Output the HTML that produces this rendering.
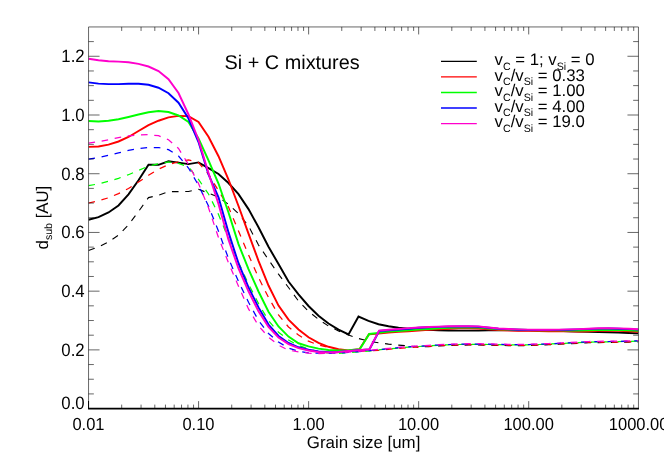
<!DOCTYPE html>
<html><head><meta charset="utf-8"><title>Si + C mixtures</title>
<style>html,body{margin:0;padding:0;background:#fff;overflow:hidden}body{width:664px;height:465px;position:relative;font-family:"Liberation Sans",sans-serif}</style></head>
<body>
<svg width="664" height="465" viewBox="0 0 664 465" style="display:block;position:absolute;left:0;top:0">
<rect width="664" height="465" fill="#fff"/>
<defs><clipPath id="c"><rect x="88.5" y="26.9" width="549.9" height="381.7"/></clipPath></defs>
<g fill="none" stroke-linejoin="miter" stroke-miterlimit="3" stroke-linecap="butt" clip-path="url(#c)">
<path d="M88.5 219.7 L98.5 217.2 L108.5 212.5 L118.5 205.5 L128.5 194.3 L138.5 180.3 L148.5 164.8 L158.5 164.8 L168.5 161.3 L178.5 162.6 L188.5 164.1 L198.5 162.4 L208.5 168.2 L218.5 174.0 L228.5 183.0 L238.5 194.2 L248.5 209.1 L258.5 227.2 L268.5 246.8 L278.5 264.0 L288.5 281.5 L298.5 294.3 L308.5 306.0 L318.5 315.8 L328.5 323.5 L338.5 329.7 L348.5 334.5 L358.5 316.6 L368.5 320.8 L378.5 324.2 L388.5 326.3 L398.5 327.7 L408.5 328.6 L418.5 329.3 L428.5 329.8 L438.5 330.2 L448.5 330.5 L458.5 330.6 L468.5 330.6 L478.5 330.6 L488.5 330.4 L498.5 330.2 L508.5 330.1 L518.5 330.2 L528.5 330.3 L538.5 330.4 L548.5 330.6 L558.5 330.9 L568.5 331.2 L578.5 331.5 L588.5 331.8 L598.5 332.0 L608.5 332.2 L618.5 332.6 L628.5 333.0 L638.5 333.4" stroke="#000000" stroke-width="1.95"/>
<path d="M88.5 250.5 L98.5 247.0 L108.5 242.0 L118.5 235.2 L128.5 224.8 L138.5 211.5 L148.5 197.6 L158.5 195.3 L168.5 191.7 L178.5 191.6 L188.5 191.5 L198.5 189.3 L208.5 193.2 L218.5 197.1 L228.5 204.4 L238.5 213.5 L248.5 226.0 L258.5 245.0 L268.5 259.7 L278.5 274.1 L288.5 287.5 L298.5 301.0 L308.5 311.3 L318.5 319.3 L328.5 326.0 L338.5 330.9 L348.5 335.1 L358.5 338.5 L368.5 341.1 L378.5 342.8 L388.5 344.1 L398.5 345.1 L408.5 345.9 L418.5 347.2 L428.5 346.6 L438.5 346.0 L448.5 345.5 L458.5 345.2 L468.5 345.0 L478.5 345.0 L488.5 345.2 L498.5 345.4 L508.5 345.6 L518.5 345.7 L528.5 345.5 L538.5 345.2 L548.5 344.8 L558.5 344.3 L568.5 343.8 L578.5 343.3 L588.5 342.8 L598.5 342.6 L608.5 342.5 L618.5 342.3 L628.5 342.1 L638.5 341.9" stroke="#000000" stroke-width="1.1" stroke-dasharray="6.6 6.7"/>
<path d="M88.5 146.9 L98.5 146.5 L108.5 144.6 L118.5 141.5 L128.5 137.0 L138.5 131.0 L148.5 125.2 L158.5 120.7 L168.5 117.4 L178.5 115.9 L188.5 116.1 L198.5 121.9 L208.5 136.8 L218.5 156.2 L228.5 179.5 L238.5 206.0 L248.5 233.7 L258.5 260.8 L268.5 285.5 L278.5 305.6 L288.5 319.6 L298.5 329.5 L308.5 337.3 L318.5 342.8 L328.5 346.8 L338.5 349.3 L348.5 350.4 L359.5 349.2 L369.0 334.2 L378.5 333.6 L388.5 332.5 L398.5 331.9 L408.5 331.3 L418.5 330.5 L428.5 329.9 L438.5 329.3 L448.5 328.8 L458.5 328.4 L468.5 328.3 L478.5 328.5 L488.5 329.4 L498.5 330.1 L508.5 330.5 L518.5 330.7 L528.5 330.9 L538.5 331.1 L548.5 331.2 L558.5 331.3 L568.5 331.4 L578.5 331.5 L588.5 331.3 L598.5 330.9 L608.5 330.7 L618.5 330.9 L628.5 331.3 L638.5 331.7" stroke="#ff0000" stroke-width="1.95"/>
<path d="M88.5 203.0 L98.5 200.8 L108.5 197.8 L118.5 193.6 L128.5 188.5 L138.5 182.0 L148.5 175.3 L158.5 169.1 L168.5 164.7 L178.5 161.7 L188.5 159.9 L198.5 162.6 L208.5 174.3 L218.5 190.7 L228.5 207.0 L238.5 231.0 L248.5 254.8 L258.5 277.5 L268.5 297.5 L278.5 314.8 L288.5 327.0 L298.5 335.1 L308.5 341.2 L318.5 345.0 L328.5 347.4 L338.5 349.5 L348.5 351.0 L358.5 351.5 L368.5 350.8 L378.5 350.3 L388.5 349.3 L398.5 348.4 L408.5 347.6 L418.5 346.9 L428.5 346.3 L438.5 345.7 L448.5 345.2 L458.5 344.9 L468.5 344.7 L478.5 344.7 L488.5 344.9 L498.5 345.1 L508.5 345.3 L518.5 345.4 L528.5 345.2 L538.5 344.9 L548.5 344.5 L558.5 344.0 L568.5 343.5 L578.5 343.0 L588.5 342.5 L598.5 342.3 L608.5 342.2 L618.5 342.0 L628.5 341.8 L638.5 341.6" stroke="#ff0000" stroke-width="1.25" stroke-dasharray="6.6 6.7"/>
<path d="M88.5 121.0 L98.5 121.4 L108.5 120.8 L118.5 119.3 L128.5 117.0 L138.5 114.5 L148.5 112.3 L158.5 111.1 L168.5 112.0 L178.5 115.5 L188.5 122.0 L198.5 138.5 L208.5 160.3 L218.5 183.5 L228.5 212.5 L238.5 244.1 L248.5 269.2 L258.5 291.5 L268.5 311.8 L278.5 326.5 L288.5 336.6 L298.5 343.3 L308.5 346.4 L318.5 348.6 L328.5 350.0 L338.5 350.5 L348.5 350.2 L359.7 349.3 L369.2 334.0 L378.5 332.9 L388.5 331.5 L398.5 331.0 L408.5 330.3 L418.5 329.6 L428.5 329.0 L438.5 328.4 L448.5 327.9 L458.5 327.5 L468.5 327.4 L478.5 327.6 L488.5 328.5 L498.5 329.2 L508.5 329.6 L518.5 329.8 L528.5 330.0 L538.5 330.2 L548.5 330.3 L558.5 330.4 L568.5 330.5 L578.5 330.6 L588.5 330.4 L598.5 330.0 L608.5 329.8 L618.5 330.0 L628.5 330.4 L638.5 330.8" stroke="#00ff00" stroke-width="1.95"/>
<path d="M88.5 185.6 L98.5 183.9 L108.5 181.3 L118.5 178.3 L128.5 174.7 L138.5 170.4 L148.5 166.2 L158.5 163.8 L168.5 162.0 L178.5 163.3 L188.5 167.0 L198.5 179.3 L208.5 194.0 L218.5 214.5 L228.5 238.5 L238.5 262.5 L248.5 284.0 L258.5 303.5 L268.5 320.6 L278.5 332.2 L288.5 340.0 L298.5 345.4 L308.5 349.0 L318.5 351.6 L328.5 353.0 L338.5 353.3 L348.5 352.7 L358.5 351.9 L368.5 351.1 L378.5 349.9 L388.5 348.9 L398.5 348.0 L408.5 347.2 L418.5 346.5 L428.5 345.9 L438.5 345.3 L448.5 344.8 L458.5 344.5 L468.5 344.3 L478.5 344.3 L488.5 344.5 L498.5 344.7 L508.5 344.9 L518.5 345.0 L528.5 344.8 L538.5 344.5 L548.5 344.1 L558.5 343.6 L568.5 343.1 L578.5 342.6 L588.5 342.1 L598.5 341.9 L608.5 341.8 L618.5 341.6 L628.5 341.4 L638.5 341.2" stroke="#00ff00" stroke-width="1.25" stroke-dasharray="6.6 6.7"/>
<path d="M88.5 82.4 L98.5 83.6 L108.5 84.1 L118.5 84.1 L128.5 83.7 L138.5 83.7 L148.5 84.8 L158.5 87.7 L168.5 93.2 L178.5 102.7 L188.5 118.5 L198.5 142.0 L208.5 174.5 L218.5 197.3 L228.5 232.4 L238.5 263.4 L248.5 287.4 L258.5 307.4 L268.5 324.6 L278.5 336.0 L288.5 343.0 L298.5 347.3 L308.5 349.7 L318.5 351.5 L328.5 352.1 L338.5 352.0 L348.5 351.2 L358.5 350.3 L369.4 349.5 L379.1 331.0 L388.5 330.2 L398.5 329.5 L408.5 328.8 L418.5 327.8 L428.5 327.3 L438.5 326.9 L448.5 326.6 L458.5 326.5 L468.5 326.5 L478.5 326.7 L488.5 327.8 L498.5 328.8 L508.5 329.3 L518.5 329.7 L528.5 329.9 L538.5 330.1 L548.5 330.1 L558.5 329.9 L568.5 329.7 L578.5 329.4 L588.5 329.0 L598.5 328.6 L608.5 328.5 L618.5 328.7 L628.5 329.1 L638.5 329.6" stroke="#0000ff" stroke-width="1.95"/>
<path d="M88.5 159.2 L98.5 157.5 L108.5 155.3 L118.5 152.9 L128.5 150.4 L138.5 148.5 L148.5 147.5 L158.5 147.5 L168.5 149.6 L178.5 156.0 L188.5 168.0 L198.5 185.3 L208.5 206.0 L218.5 231.2 L228.5 258.5 L238.5 281.5 L248.5 302.2 L258.5 320.4 L268.5 333.5 L278.5 342.1 L288.5 348.0 L298.5 351.2 L308.5 352.8 L318.5 353.2 L328.5 353.5 L338.5 353.0 L348.5 352.4 L358.5 351.6 L368.5 350.8 L378.5 349.6 L388.5 348.6 L398.5 347.7 L408.5 346.9 L418.5 346.2 L428.5 345.6 L438.5 345.0 L448.5 344.5 L458.5 344.2 L468.5 344.0 L478.5 344.0 L488.5 344.2 L498.5 344.4 L508.5 344.6 L518.5 344.7 L528.5 344.5 L538.5 344.2 L548.5 343.8 L558.5 343.3 L568.5 342.8 L578.5 342.3 L588.5 341.8 L598.5 341.6 L608.5 341.5 L618.5 341.3 L628.5 341.1 L638.5 340.9" stroke="#0000ff" stroke-width="1.25" stroke-dasharray="6.6 6.7"/>
<path d="M88.5 58.7 L98.5 60.3 L108.5 61.2 L118.5 61.6 L128.5 62.3 L138.5 63.9 L148.5 66.5 L158.5 71.0 L168.5 79.2 L178.5 93.0 L188.5 114.5 L198.5 140.0 L208.5 173.0 L218.5 204.0 L228.5 239.6 L238.5 268.5 L248.5 291.3 L258.5 311.2 L268.5 327.0 L278.5 337.6 L288.5 344.1 L298.5 348.1 L308.5 350.5 L318.5 352.0 L328.5 352.4 L338.5 352.0 L348.5 351.0 L358.5 350.2 L369.4 349.3 L379.1 330.6 L388.5 329.8 L398.5 329.0 L408.5 328.1 L418.5 327.5 L428.5 327.0 L438.5 326.6 L448.5 326.3 L458.5 326.2 L468.5 326.2 L478.5 326.4 L488.5 327.5 L498.5 328.5 L508.5 329.0 L518.5 329.4 L528.5 329.6 L538.5 329.8 L548.5 329.8 L558.5 329.6 L568.5 329.4 L578.5 329.1 L588.5 328.7 L598.5 328.3 L608.5 328.2 L618.5 328.4 L628.5 328.8 L638.5 329.3" stroke="#ff00cc" stroke-width="1.95"/>
<path d="M88.5 143.1 L98.5 141.7 L108.5 139.7 L118.5 137.6 L128.5 135.8 L138.5 134.9 L148.5 134.7 L158.5 135.7 L168.5 139.7 L178.5 148.5 L188.5 164.5 L198.5 183.5 L208.5 207.8 L218.5 237.6 L228.5 262.8 L238.5 286.2 L248.5 308.9 L258.5 325.7 L268.5 337.2 L278.5 345.2 L288.5 350.2 L298.5 351.8 L308.5 353.2 L318.5 353.5 L328.5 353.2 L338.5 352.7 L348.5 352.1 L358.5 351.3 L368.5 350.5 L378.5 349.3 L388.5 348.3 L398.5 347.4 L408.5 346.6 L418.5 345.9 L428.5 345.3 L438.5 344.7 L448.5 344.2 L458.5 343.9 L468.5 343.7 L478.5 343.7 L488.5 343.9 L498.5 344.1 L508.5 344.3 L518.5 344.4 L528.5 344.2 L538.5 343.9 L548.5 343.5 L558.5 343.0 L568.5 342.5 L578.5 342.0 L588.5 341.5 L598.5 341.3 L608.5 341.2 L618.5 341.0 L628.5 340.8 L638.5 340.6" stroke="#ff00cc" stroke-width="1.25" stroke-dasharray="6.6 6.7"/>
</g>
<g stroke="#000" stroke-width="0.6" fill="none">
<path d="M88.55 26.95 V408.60"/>
<path d="M88.55 26.95 H638.45"/>
<path d="M638.45 26.95 V408.60"/>
<path d="M121.68 408.60 v-4 M121.68 26.95 v4"/>
<path d="M141.05 408.60 v-4 M141.05 26.95 v4"/>
<path d="M154.80 408.60 v-4 M154.80 26.95 v4"/>
<path d="M165.46 408.60 v-4 M165.46 26.95 v4"/>
<path d="M174.18 408.60 v-4 M174.18 26.95 v4"/>
<path d="M181.54 408.60 v-4 M181.54 26.95 v4"/>
<path d="M187.93 408.60 v-4 M187.93 26.95 v4"/>
<path d="M193.55 408.60 v-4 M193.55 26.95 v4"/>
<path d="M198.59 408.60 v-7.5 M198.59 26.95 v7.5"/>
<path d="M231.72 408.60 v-4 M231.72 26.95 v4"/>
<path d="M251.09 408.60 v-4 M251.09 26.95 v4"/>
<path d="M264.84 408.60 v-4 M264.84 26.95 v4"/>
<path d="M275.50 408.60 v-4 M275.50 26.95 v4"/>
<path d="M284.22 408.60 v-4 M284.22 26.95 v4"/>
<path d="M291.58 408.60 v-4 M291.58 26.95 v4"/>
<path d="M297.97 408.60 v-4 M297.97 26.95 v4"/>
<path d="M303.59 408.60 v-4 M303.59 26.95 v4"/>
<path d="M308.63 408.60 v-7.5 M308.63 26.95 v7.5"/>
<path d="M341.76 408.60 v-4 M341.76 26.95 v4"/>
<path d="M361.13 408.60 v-4 M361.13 26.95 v4"/>
<path d="M374.88 408.60 v-4 M374.88 26.95 v4"/>
<path d="M385.54 408.60 v-4 M385.54 26.95 v4"/>
<path d="M394.26 408.60 v-4 M394.26 26.95 v4"/>
<path d="M401.62 408.60 v-4 M401.62 26.95 v4"/>
<path d="M408.01 408.60 v-4 M408.01 26.95 v4"/>
<path d="M413.63 408.60 v-4 M413.63 26.95 v4"/>
<path d="M418.67 408.60 v-7.5 M418.67 26.95 v7.5"/>
<path d="M451.80 408.60 v-4 M451.80 26.95 v4"/>
<path d="M471.17 408.60 v-4 M471.17 26.95 v4"/>
<path d="M484.92 408.60 v-4 M484.92 26.95 v4"/>
<path d="M495.58 408.60 v-4 M495.58 26.95 v4"/>
<path d="M504.30 408.60 v-4 M504.30 26.95 v4"/>
<path d="M511.66 408.60 v-4 M511.66 26.95 v4"/>
<path d="M518.05 408.60 v-4 M518.05 26.95 v4"/>
<path d="M523.67 408.60 v-4 M523.67 26.95 v4"/>
<path d="M528.71 408.60 v-7.5 M528.71 26.95 v7.5"/>
<path d="M561.84 408.60 v-4 M561.84 26.95 v4"/>
<path d="M581.21 408.60 v-4 M581.21 26.95 v4"/>
<path d="M594.96 408.60 v-4 M594.96 26.95 v4"/>
<path d="M605.62 408.60 v-4 M605.62 26.95 v4"/>
<path d="M614.34 408.60 v-4 M614.34 26.95 v4"/>
<path d="M621.70 408.60 v-4 M621.70 26.95 v4"/>
<path d="M628.09 408.60 v-4 M628.09 26.95 v4"/>
<path d="M633.71 408.60 v-4 M633.71 26.95 v4"/>
<path d="M88.55 393.92 h5.3 M638.45 393.92 h-5.3"/>
<path d="M88.55 379.24 h5.3 M638.45 379.24 h-5.3"/>
<path d="M88.55 364.56 h5.3 M638.45 364.56 h-5.3"/>
<path d="M88.55 349.88 h11.0 M638.45 349.88 h-11.0"/>
<path d="M88.55 335.20 h5.3 M638.45 335.20 h-5.3"/>
<path d="M88.55 320.52 h5.3 M638.45 320.52 h-5.3"/>
<path d="M88.55 305.84 h5.3 M638.45 305.84 h-5.3"/>
<path d="M88.55 291.16 h11.0 M638.45 291.16 h-11.0"/>
<path d="M88.55 276.48 h5.3 M638.45 276.48 h-5.3"/>
<path d="M88.55 261.80 h5.3 M638.45 261.80 h-5.3"/>
<path d="M88.55 247.12 h5.3 M638.45 247.12 h-5.3"/>
<path d="M88.55 232.44 h11.0 M638.45 232.44 h-11.0"/>
<path d="M88.55 217.76 h5.3 M638.45 217.76 h-5.3"/>
<path d="M88.55 203.08 h5.3 M638.45 203.08 h-5.3"/>
<path d="M88.55 188.40 h5.3 M638.45 188.40 h-5.3"/>
<path d="M88.55 173.72 h11.0 M638.45 173.72 h-11.0"/>
<path d="M88.55 159.04 h5.3 M638.45 159.04 h-5.3"/>
<path d="M88.55 144.36 h5.3 M638.45 144.36 h-5.3"/>
<path d="M88.55 129.68 h5.3 M638.45 129.68 h-5.3"/>
<path d="M88.55 115.00 h11.0 M638.45 115.00 h-11.0"/>
<path d="M88.55 100.32 h5.3 M638.45 100.32 h-5.3"/>
<path d="M88.55 85.64 h5.3 M638.45 85.64 h-5.3"/>
<path d="M88.55 70.96 h5.3 M638.45 70.96 h-5.3"/>
<path d="M88.55 56.28 h11.0 M638.45 56.28 h-11.0"/>
<path d="M88.55 41.60 h5.3 M638.45 41.60 h-5.3"/>
</g>
<path d="M88.05 408.7 H638.95" stroke="#000" stroke-width="1.8" fill="none"/>
<path d="M88.55 401 V409" stroke="#000" stroke-width="1.0" fill="none"/>
<g font-family="Liberation Sans, sans-serif" font-size="16.75" fill="#000" text-rendering="geometricPrecision" opacity="0.995">
<text transform="translate(88.45 430.45) scale(1 1.065)" text-anchor="middle" font-size="16.5">0.01</text>
<text transform="translate(198.49 430.45) scale(1 1.065)" text-anchor="middle" font-size="16.5">0.10</text>
<text transform="translate(308.53 430.45) scale(1 1.065)" text-anchor="middle" font-size="16.5">1.00</text>
<text transform="translate(418.57 430.45) scale(1 1.065)" text-anchor="middle" font-size="16.5">10.00</text>
<text transform="translate(528.61 430.45) scale(1 1.065)" text-anchor="middle" font-size="16.5">100.00</text>
<text transform="translate(638.65 430.45) scale(1 1.065)" text-anchor="middle" font-size="16.5">1000.00</text>
<text transform="translate(84.70 355.78) scale(1 1.070)" text-anchor="end" font-size="16.8">0.2</text>
<text transform="translate(84.70 297.06) scale(1 1.070)" text-anchor="end" font-size="16.8">0.4</text>
<text transform="translate(84.70 238.34) scale(1 1.070)" text-anchor="end" font-size="16.8">0.6</text>
<text transform="translate(84.70 179.62) scale(1 1.070)" text-anchor="end" font-size="16.8">0.8</text>
<text transform="translate(84.70 120.90) scale(1 1.070)" text-anchor="end" font-size="16.8">1.0</text>
<text transform="translate(84.70 62.18) scale(1 1.070)" text-anchor="end" font-size="16.8">1.2</text>
<text transform="translate(84.70 409.10) scale(1 1.070)" text-anchor="end" font-size="16.8">0.0</text>
<text x="363.60" y="448.10" text-anchor="middle" font-size="16.9">Grain size [um]</text>
<text transform="translate(47.9 249.4) rotate(-90)" font-size="16.75">d<tspan font-size="10.6" dy="4.5">sub</tspan><tspan dy="-4.5"> [AU]</tspan></text>
<text x="224.6" y="69.3" font-size="19.85">Si + C mixtures</text>
<text x="494.6" y="65.2">v<tspan font-size="10.6" dy="4.5">C</tspan><tspan dy="-4.5"> = 1; v</tspan><tspan font-size="10.6" dy="4.5">Si</tspan><tspan dy="-4.5"> = 0</tspan></text>
<text x="494.6" y="80.7">v<tspan font-size="10.6" dy="4.5">C</tspan><tspan dy="-4.5">/v</tspan><tspan font-size="10.6" dy="4.5">Si</tspan><tspan dy="-4.5"> = 0.33</tspan></text>
<text x="494.6" y="96.3">v<tspan font-size="10.6" dy="4.5">C</tspan><tspan dy="-4.5">/v</tspan><tspan font-size="10.6" dy="4.5">Si</tspan><tspan dy="-4.5"> = 1.00</tspan></text>
<text x="494.6" y="111.8">v<tspan font-size="10.6" dy="4.5">C</tspan><tspan dy="-4.5">/v</tspan><tspan font-size="10.6" dy="4.5">Si</tspan><tspan dy="-4.5"> = 4.00</tspan></text>
<text x="494.6" y="127.4">v<tspan font-size="10.6" dy="4.5">C</tspan><tspan dy="-4.5">/v</tspan><tspan font-size="10.6" dy="4.5">Si</tspan><tspan dy="-4.5"> = 19.0</tspan></text>
</g>
<g fill="none" stroke-width="1.4">
<path d="M441 61.4 H476.8" stroke="#000000"/>
<path d="M441 76.9 H476.8" stroke="#ff0000"/>
<path d="M441 92.5 H476.8" stroke="#00ff00"/>
<path d="M441 108.0 H476.8" stroke="#0000ff"/>
<path d="M441 123.6 H476.8" stroke="#ff00cc"/>
</g>
</svg>
</body></html>
